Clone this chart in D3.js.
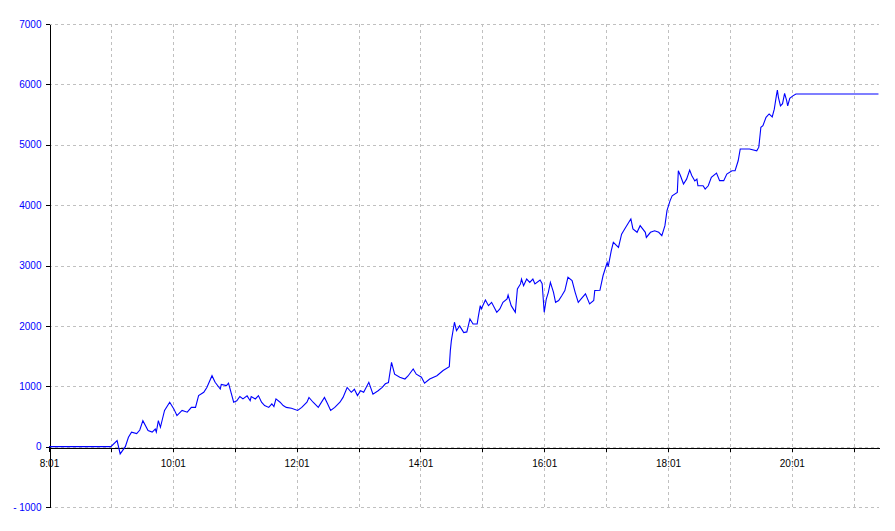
<!DOCTYPE html>
<html>
<head>
<meta charset="utf-8">
<script src="https://cdn.jsdelivr.net/npm/d3@7"></script>
<style>
  html, body { margin: 0; padding: 0; background: #fff; }
  svg { display: block; }
  text { font-family: "Liberation Sans", Arial, sans-serif; font-size: 10px; }
</style>
</head>
<body>
<svg id="chart" width="895" height="531"></svg>
<script>
// ---- data ----
const times = ["8:01","9:01","9:07","9:10","9:15","9:18","9:21","9:26","9:29","9:32","9:37","9:41","9:44","9:45","9:47","9:49","9:53","9:58",
"10:02","10:05","10:10","10:15","10:19","10:23","10:26","10:31","10:34","10:39","10:42","10:47","10:48","10:53","10:55",
"11:00","11:03","11:06","11:09","11:13","11:16","11:17","11:21","11:24","11:27","11:30","11:34","11:37","11:39","11:41","11:45","11:48","11:51","11:56",
"12:02","12:06","12:11","12:13","12:17","12:22","12:28","12:31","12:34","12:38","12:43","12:46","12:50","12:54","12:57",
"13:00","13:03","13:06","13:11","13:15","13:20","13:24","13:27","13:30","13:33","13:36","13:41","13:46","13:49","13:54","13:57",
"14:02","14:05","14:10","14:17","14:23","14:29","14:30","14:31","14:34","14:36","14:39","14:43","14:46","14:49","14:52","14:56","14:57","14:59",
"15:00","15:04","15:07","15:10","15:15","15:18","15:21","15:25","15:26","15:29","15:33","15:35","15:38","15:39","15:41","15:44","15:47","15:50","15:52","15:57","15:59",
"16:01","16:03","16:05","16:07","16:10","16:12","16:15","16:18","16:21","16:24","16:28","16:31","16:34","16:37","16:41","16:45","16:49","16:50","16:55","16:58",
"17:02","17:03","17:06","17:08","17:13","17:16","17:19","17:23","17:25","17:27","17:31","17:34","17:39","17:40","17:44","17:48","17:52","17:55","17:58",
"18:00","18:03","18:05","18:10","18:11","18:13","18:16","18:19","18:22","18:24","18:27","18:29","18:30","18:35","18:37","18:40","18:43","18:48","18:51","18:55","18:58",
"19:03","19:06","19:09","19:11","19:16","19:20","19:27","19:29","19:31","19:33","19:36","19:39","19:42","19:44","19:46","19:47","19:48","19:50","19:52","19:54","19:56","19:57","19:59",
"20:02","20:05","21:25"];
const values = [0,0,100,-120,0,155,240,215,275,430,265,240,290,240,430,320,600,735,
625,515,600,570,650,650,845,900,980,1175,1065,955,1030,1010,1050,
735,760,830,790,840,760,830,790,845,735,680,650,707,665,790,735,680,650,635,
600,650,735,815,735,650,815,710,600,650,735,815,980,900,950,
845,925,900,1065,870,925,980,1040,1060,1395,1200,1150,1120,1170,1285,1200,
1150,1050,1120,1175,1260,1325,1590,1755,2060,1920,2000,1890,1900,2115,2030,2030,2140,2335,
2280,2430,2335,2390,2225,2280,2390,2445,2510,2335,2225,2610,2695,2775,2665,2775,2720,2775,2695,2760,2700,
2225,2445,2555,2720,2555,2390,2420,2500,2585,2805,2750,2555,2390,2450,2530,2365,2420,2585,2590,2830,
3050,2980,3245,3385,3300,3520,3605,3715,3770,3605,3550,3660,3550,3465,3550,3575,3550,3495,3660,
3910,4075,4155,4210,4570,4490,4350,4430,4580,4490,4400,4430,4320,4320,4265,4320,4460,4530,4405,4405,4515,
4570,4570,4735,4930,4930,4930,4900,4960,5290,5315,5455,5510,5460,5590,5810,5905,5785,5645,5680,5850,5730,5645,5770,
5810,5840,5840];
const yTicks = [-1000,0,1000,2000,3000,4000,5000,6000,7000];
const xTickLabels = ["8:01","10:01","12:01","14:01","16:01","18:01","20:01"];
const hourTicks = ["8:01","9:01","10:01","11:01","12:01","13:01","14:01","15:01","16:01","17:01","18:01","19:01","20:01","21:01"];

// ---- helpers ----
const toDate = s => { const [h,m] = s.split(":").map(Number); return new Date(2000,0,1,h,m,0); };
const data = times.map((t,i) => ({t: toDate(t), v: values[i]}));

const svg = d3.select("#chart");
const pLeft = 49, pRight = 879, pTop = 24, pBottom = 507;

const x = d3.scaleTime()
  .domain([toDate("8:01"), new Date(2000,0,1,21,25,30)])
  .range([pLeft, pRight]);
const y = d3.scaleLinear().domain([-1000, 7000]).range([pBottom, pTop]);

// grid
const grid = svg.append("g").attr("stroke", "#c0c0c0").attr("stroke-dasharray", "3,3")
  .attr("shape-rendering", "crispEdges");
grid.selectAll("line.h").data(yTicks).join("line").attr("class", "h")
  .attr("x1", pLeft).attr("x2", pRight)
  .attr("y1", d => Math.round(y(d)) + 0.5).attr("y2", d => Math.round(y(d)) + 0.5);
grid.selectAll("line.v").data(hourTicks.slice(1)).join("line").attr("class", "v")
  .attr("x1", d => Math.round(x(toDate(d))) + 0.5).attr("x2", d => Math.round(x(toDate(d))) + 0.5)
  .attr("y1", pTop).attr("y2", pBottom);

// y axis
const yAxis = d3.axisLeft(y).tickValues(yTicks).tickSizeInner(4).tickSizeOuter(0).tickPadding(4)
  .tickFormat(d => d < 0 ? "- " + Math.abs(d) : String(d));
const gy = svg.append("g").attr("transform", `translate(${pLeft + 0.5},0)`).call(yAxis);
gy.select(".domain").attr("stroke", "#000").attr("shape-rendering", "crispEdges");
gy.selectAll(".tick line").attr("stroke", "#000").attr("shape-rendering", "crispEdges");
gy.selectAll(".tick text").attr("fill", "#0000ff").style("font-size", "10px")
  .style("font-family", "'Liberation Sans', Arial, sans-serif");

// x axis at zero
const xAxis = d3.axisBottom(x).tickValues(hourTicks.map(toDate)).tickSizeInner(4).tickSizeOuter(0).tickPadding(8)
  .tickFormat(d => { const s = d3.timeFormat("%-H:%M")(d); return xTickLabels.includes(s) ? s : ""; });
const gx = svg.append("g").attr("transform", `translate(0,${Math.round(y(0)) + 0.5})`).call(xAxis);
gx.select(".domain").attr("stroke", "#000").attr("shape-rendering", "crispEdges");
gx.selectAll(".tick line").attr("stroke", "#000").attr("shape-rendering", "crispEdges");
gx.selectAll(".tick text").attr("fill", "#000").style("font-size", "10px")
  .style("font-family", "'Liberation Sans', Arial, sans-serif");

// line
const line = d3.line().x(d => x(d.t)).y(d => y(d.v));
svg.append("path").datum(data)
  .attr("fill", "none").attr("stroke", "#0000ff").attr("stroke-width", 1.1)
  .attr("d", line);
</script>
</body>
</html>
